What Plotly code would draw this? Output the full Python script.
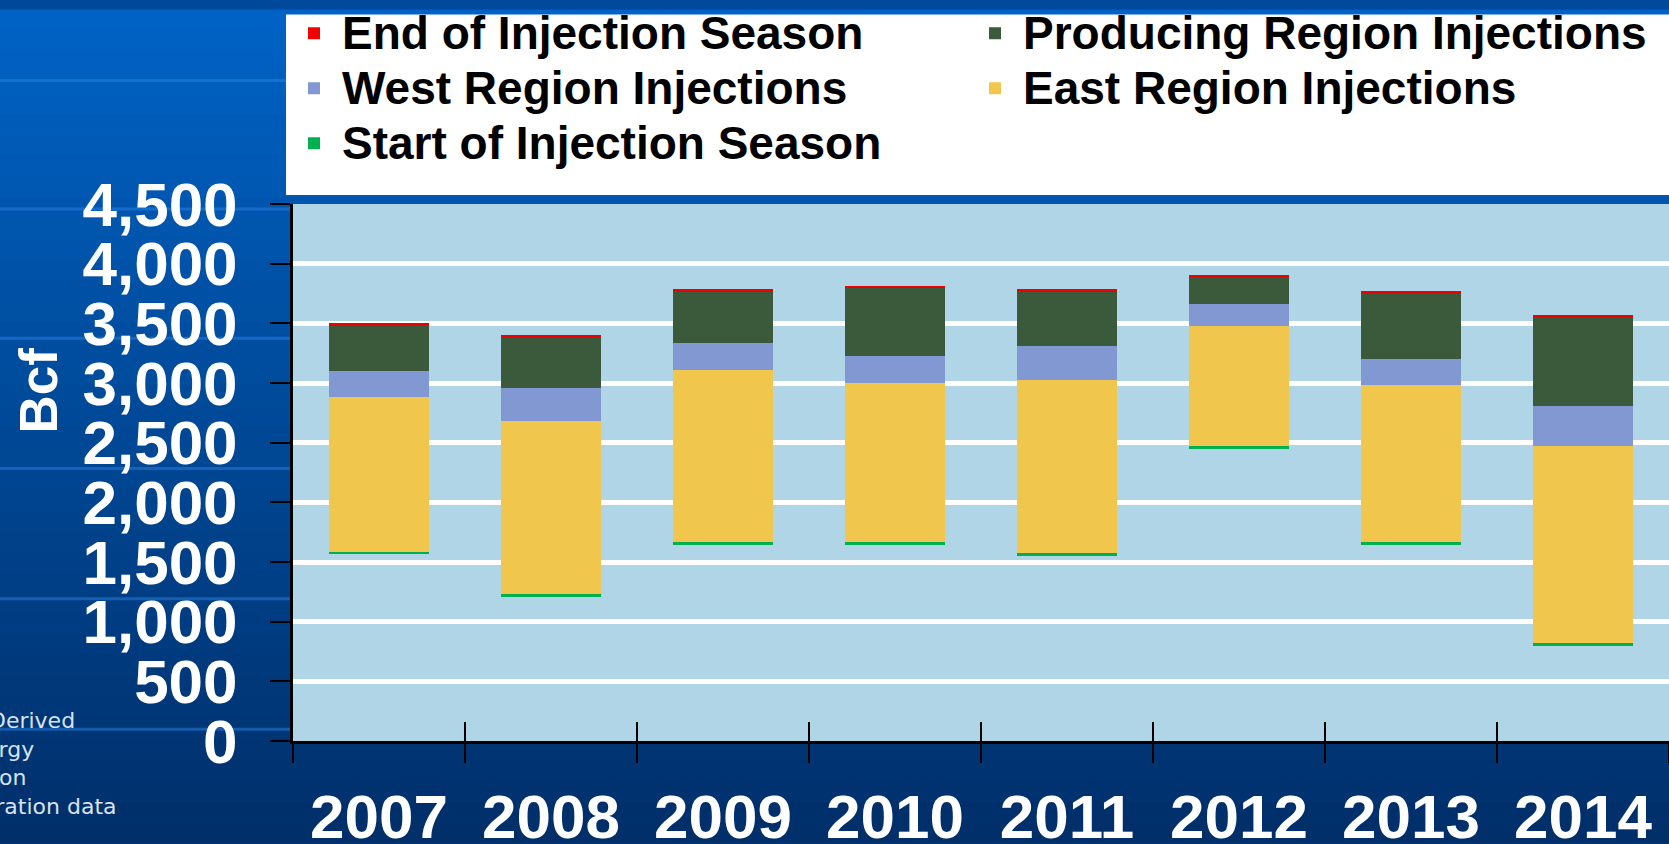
import plotly.graph_objects as go

# storage (Bcf)
years = ["2007", "2008", "2009", "2010", "2011", "2012", "2013", "2014"]
start_of_season = [1588, 1228, 1671, 1665, 1574, 2473, 1671, 821]
east_injections = [1296, 1451, 1434, 1337, 1453, 1003, 1315, 1650]
west_injections = [218, 282, 232, 225, 285, 188, 216, 340]
producing_injections = [376, 415, 424, 565, 452, 216, 548, 731]

MARKER_BCF = 25  # thickness of the start/end season markers

W, H = 1669, 844
L, R, T, B = 293, 0, 197, 103
PLOT_W = W - L - R
PLOT_H = H - T - B

WHITE = "#ffffff"
TEXT_FONT = "Liberation Sans, Arial, sans-serif"


def px_x(px):
    return (px - L) / PLOT_W


def px_y(py):
    return (H - B - py) / PLOT_H


def mix(c1, c2, t):
    a = [int(c1[i:i + 2], 16) for i in (1, 3, 5)]
    b = [int(c2[i:i + 2], 16) for i in (1, 3, 5)]
    return "#" + "".join("%02x" % round(a[i] + (b[i] - a[i]) * t) for i in range(3))


def background_shapes():
    shapes = []
    bands = 40
    top_col, bot_col = "#0062c4", "#002f6a"
    for i in range(bands):
        y0 = H * i / bands
        y1 = H * (i + 1) / bands + 1
        shapes.append(dict(type="rect", xref="paper", yref="paper",
                           x0=px_x(-5), x1=px_x(W + 5), y0=px_y(y1), y1=px_y(y0),
                           fillcolor=mix(top_col, bot_col, i / (bands - 1)),
                           line=dict(width=0), layer="below"))
    for ly in [72, 202, 333, 465, 597, 729]:
        shapes.append(dict(type="line", xref="paper", yref="paper",
                           x0=px_x(0), x1=px_x(W), y0=px_y(ly), y1=px_y(ly),
                           line=dict(color="rgba(40,130,230,0.5)", width=3), layer="below"))
    # legend box
    shapes.append(dict(type="rect", xref="paper", yref="paper",
                       x0=px_x(286), x1=px_x(W + 5), y0=px_y(188), y1=px_y(5),
                       fillcolor=WHITE, line=dict(width=0), layer="below"))
    # plot area fill
    shapes.append(dict(type="rect", xref="paper", yref="paper", x0=0, x1=1, y0=0, y1=1,
                       fillcolor="#b0d5e6", line=dict(width=0), layer="below"))
    return shapes


def generate_figure():
    base = [s - MARKER_BCF for s in start_of_season]
    marker = [MARKER_BCF] * len(years)

    fig = go.Figure()
    fig.add_trace(go.Bar(x=years, y=base, marker=dict(color="rgba(0,0,0,0)", line=dict(width=0)),
                         showlegend=False, hoverinfo="skip"))
    series = [
        ("Start of Injection Season", marker, "#00b050"),
        ("East Region Injections", east_injections, "#f1c64d"),
        ("West Region Injections", west_injections, "#8198d2"),
        ("Producing Region Injections", producing_injections, "#3a5a3b"),
        ("End of Injection Season", marker, "#f00000"),
    ]
    for name, vals, color in series:
        fig.add_trace(go.Bar(
            x=years, y=vals,
            name='<span style="font-size:46px">' + name + "</span>",
            marker=dict(color=color, line=dict(width=0)),
        ))
    # second axis only to draw the inner half of the category dividers
    fig.add_trace(go.Scatter(x=years, y=[None] * len(years), xaxis="x2", mode="markers",
                             showlegend=False, hoverinfo="skip"))

    fig.update_layout(
        width=W, height=H,
        margin=dict(l=L, r=R, t=T, b=B),
        paper_bgcolor="#00489a",
        plot_bgcolor="rgba(0,0,0,0)",
        barmode="stack", bargap=0.42,
        shapes=background_shapes(),
        legend=dict(
            orientation="h", traceorder="reversed",
            x=px_x(286), xanchor="left", y=px_y(-9), yanchor="top",
            bgcolor="rgba(0,0,0,0)", borderwidth=0,
            entrywidth=620, itemwidth=46,
            font=dict(family=TEXT_FONT, size=40, color="#000000", weight="bold"),
        ),
        xaxis=dict(
            type="category", categoryorder="array", categoryarray=years,
            tickson="boundaries", ticks="outside", ticklen=19, tickwidth=2, tickcolor="#000000",
            showline=True, linecolor="#000000", linewidth=3, automargin=False,
            showgrid=False, ticklabelstandoff=20,
            tickfont=dict(family=TEXT_FONT, size=62, color=WHITE, weight="bold"),
        ),
        xaxis2=dict(
            type="category", categoryorder="array", categoryarray=years,
            overlaying="x", matches="x", anchor="y", side="bottom", automargin=False,
            tickson="boundaries", ticks="inside", ticklen=19, tickwidth=2, tickcolor="#000000",
            showticklabels=False, showgrid=False, showline=False,
        ),
        yaxis=dict(
            range=[0, 4500], dtick=500, tickformat=",",
            ticks="outside", ticklen=20, tickwidth=2, tickcolor="#000000",
            showline=True, linecolor="#000000", linewidth=3, automargin=False,
            showgrid=True, gridcolor=WHITE, gridwidth=5, zeroline=False,
            ticklabelstandoff=20,
            tickfont=dict(family=TEXT_FONT, size=62, color=WHITE, weight="bold"),
        ),
        annotations=[
            dict(text="Bcf", textangle=-90, xref="paper", yref="paper",
                 x=px_x(39), y=px_y(386), xanchor="center", yanchor="middle", showarrow=False,
                 font=dict(family=TEXT_FONT, size=53, color=WHITE, weight="bold")),
            dict(text="Source: Derived<br>from Energy<br>Information<br>Administration data",
                 xref="paper", yref="paper", x=px_x(-103), y=px_y(706),
                 xanchor="left", yanchor="top", align="left", showarrow=False,
                 font=dict(family="DejaVu Sans, Verdana, sans-serif", size=22, color="#d8e2f2")),
        ],
    )
    return fig


def main():
    fig = generate_figure()
    fig.write_html("out.html", config={"displayModeBar": False},
                   post_script="document.body.style.margin='0';document.body.style.overflow='hidden';")


if __name__ == '__main__':
    main()
